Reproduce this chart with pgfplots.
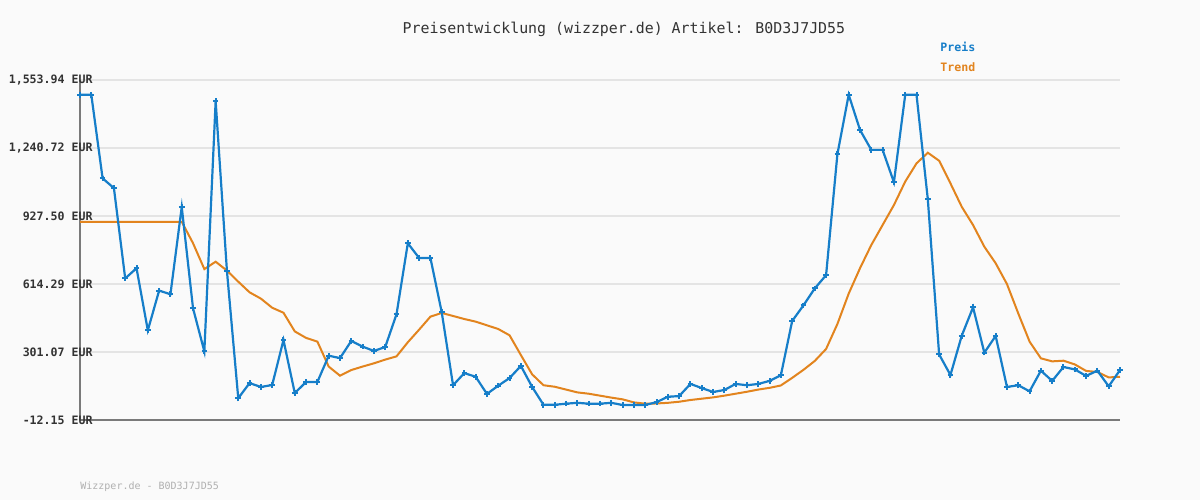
\documentclass[border=0pt]{standalone}
\usepackage{fontspec}
\setmainfont{DejaVu Sans Mono}
\usepackage{pgfplots}
\pgfplotsset{compat=1.18}
\definecolor{bg}{HTML}{FAFAFA}
\definecolor{preis}{RGB}{22,126,201}
\definecolor{trend}{RGB}{226,132,30}
\definecolor{gridc}{HTML}{E4E4E4}
\definecolor{axc}{HTML}{7A7A7A}
\definecolor{txt}{HTML}{333333}
\definecolor{foot}{HTML}{B0B0B0}
\begin{document}
\begin{tikzpicture}
\fill[bg] (0,0) rectangle (600pt,250pt);
\begin{axis}[
  at={(40pt,40pt)}, anchor=south west,
  scale only axis, width=520pt, height=170pt,
  xmin=0, xmax=92, ymin=-12.15, ymax=1553.94,
  axis x line=bottom, axis y line=left,
  axis line style={-, draw=axc, line width=1.2pt},
  xtick=\empty,
  ytick={-12.15,301.07,614.29,927.50,1240.72,1553.94},
  yticklabels={{-12.15 EUR},{301.07 EUR},{614.29 EUR},{927.50 EUR},{1,240.72 EUR},{1,553.94 EUR}},
  yticklabel style={font=\fontsize{5.8}{6}\selectfont\bfseries, text=txt, anchor=east, inner sep=0pt, xshift=6.5pt},
  major tick length=0pt,
  ymajorgrids, grid style={draw=gridc, line width=1pt},
  clip=false,
  title={Preisentwicklung (wizzper.de) Artikel: B0D3J7JD55},
  title style={at={(rel axis cs:0.523,1.115)}, anchor=center, inner sep=0pt, font=\fontsize{7.45}{8}\selectfont, text=txt},
  reverse legend,
  legend image code/.code={},
  legend cell align=left,
  legend style={draw=none, fill=none, inner sep=0pt, at={(rel axis cs:0.827,1.065)}, anchor=west,
    font=\fontsize{5.8}{6}\selectfont\bfseries, row sep=4.5pt,
    nodes={inner sep=0pt, text height=4.5pt, text depth=1pt}},
]
\addplot[trend, line width=1pt] coordinates {
(0,901)(1,901)(2,901)(3,901)(4,901)(5,901)(6,901)(7,901)(8,901)(9,901)
(10,802)(11,683)(12,717)(13,676)(14,625)(15,576)(16,547)(17,505)(18,482)(19,396)
(20,366)(21,349)(22,234)(23,192)(24,218)(25,234)(26,249)(27,266)(28,281)(29,346)
(30,404)(31,464)(32,481)(33,467)(34,453)(35,441)(36,424)(37,407)(38,378)(39,287)
(40,198)(41,148)(42,141)(43,128)(44,115)(45,109)(46,100)(47,91)(48,83)(49,69)
(50,63)(51,64)(52,67)(53,72)(54,80)(55,86)(56,92)(57,100)(58,109)(59,118)
(60,128)(61,136)(62,147)(63,182)(64,219)(65,260)(66,315)(67,430)(68,570)(69,687)
(70,794)(71,886)(72,978)(73,1086)(74,1170)(75,1219)(76,1182)(77,1078)(78,970)(79,886)
(80,786)(81,710)(82,614)(83,479)(84,349)(85,272)(86,258)(87,261)(88,244)(89,214)
(90,209)(91,184)(92,187)};
\addlegendentry{\textcolor{trend}{Trend}}
\addplot[preis, line width=1.1pt, mark=+, mark size=1.4pt, mark options={line width=1pt}] coordinates {
(0,1486)(1,1486)(2,1101)(3,1056)(4,640)(5,687)(6,401)(7,584)(8,567)(9,969)
(10,502)(11,304)(12,1456)(13,673)(14,88)(15,158)(16,140)(17,149)(18,356)(19,112)
(20,163)(21,163)(22,284)(23,273)(24,352)(25,326)(26,306)(27,324)(28,475)(29,802)
(30,734)(31,734)(32,484)(33,148)(34,204)(35,187)(36,108)(37,146)(38,181)(39,237)
(40,140)(41,58)(42,58)(43,63)(44,67)(45,63)(46,63)(47,67)(48,57)(49,57)
(50,57)(51,70)(52,95)(53,98)(54,154)(55,135)(56,117)(57,126)(58,154)(59,148)
(60,154)(61,168)(62,194)(63,444)(64,516)(65,594)(66,655)(67,1212)(68,1486)(69,1324)
(70,1232)(71,1232)(72,1083)(73,1486)(74,1486)(75,1004)(76,290)(77,195)(78,376)(79,507)
(80,298)(81,375)(82,140)(83,148)(84,120)(85,215)(86,168)(87,232)(88,221)(89,191)
(90,215)(91,143)(92,218)};
\addlegendentry{\textcolor{preis}{Preis}}
\end{axis}
\node[anchor=west, inner sep=0pt, font=\fontsize{5}{6}\selectfont, text=foot] at (40pt,6.5pt) {Wizzper.de - B0D3J7JD55};
\pgfresetboundingbox
\useasboundingbox (0,0) rectangle (600pt,250pt);
\end{tikzpicture}
\end{document}
